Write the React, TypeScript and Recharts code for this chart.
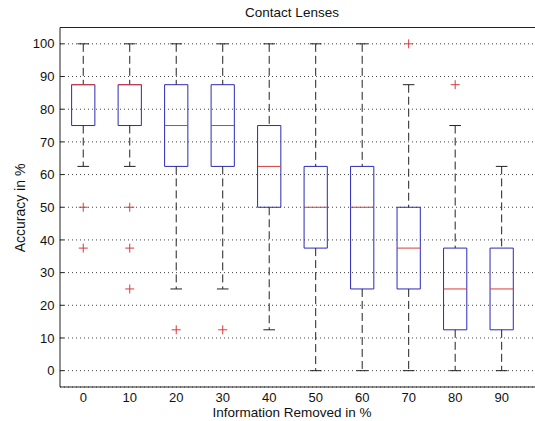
import React from 'react';
import {
  ComposedChart,
  XAxis,
  YAxis,
  CartesianGrid,
  ReferenceArea,
  ReferenceLine,
  Scatter,
} from 'recharts';

const categories = [0, 10, 20, 30, 40, 50, 60, 70, 80, 90];
const whiskerLow = [62.5, 62.5, 25, 25, 12.5, 0, 0, 0, 0, 0];
const q1 = [75, 75, 62.5, 62.5, 50, 37.5, 25, 25, 12.5, 12.5];
const medians = [87.5, 87.5, 75, 75, 62.5, 50, 50, 37.5, 25, 25];
const q3 = [87.5, 87.5, 87.5, 87.5, 75, 62.5, 62.5, 50, 37.5, 37.5];
const whiskerHigh = [100, 100, 100, 100, 100, 100, 100, 87.5, 75, 62.5];
const outlierX = [0, 0, 10, 10, 10, 20, 30, 70, 80];
const outlierY = [50, 37.5, 50, 37.5, 25, 12.5, 12.5, 100, 87.5];
const yTicks = [0, 10, 20, 30, 40, 50, 60, 70, 80, 90, 100];

const title = 'Contact Lenses';
const xLabel = 'Information Removed in %';
const yLabel = 'Accuracy in %';

const BOX_HALF = 2.5;
const CAP_HALF = 1.25;
const BLUE = '#2a2ab8';
const RED = '#d83a3a';
const WHISKER = '#222222';
const FONT = '"Liberation Sans", Arial, Helvetica, sans-serif';

const outliers = outlierX.map((x, i) => ({ x, y: outlierY[i] }));

const Plus = (props: any) => {
  const { cx, cy } = props;
  if (cx == null || cy == null) return <g />;
  return (
    <g stroke={RED} strokeWidth={1}>
      <line x1={cx - 4.5} x2={cx + 4.5} y1={cy} y2={cy} />
      <line x1={cx} x2={cx} y1={cy - 4.5} y2={cy + 4.5} />
    </g>
  );
};

export default function App() {
  return (
    <div
      style={{
        position: 'fixed',
        left: 0,
        top: 0,
        width: 535,
        height: 421,
        overflow: 'hidden',
        background: '#fff',
        fontFamily: FONT,
      }}
    >
      <div
        style={{
          position: 'absolute',
          left: 192,
          width: 200,
          top: 5,
          textAlign: 'center',
          fontSize: 13.5,
          lineHeight: '15px',
          color: '#111',
        }}
      >
        {title}
      </div>
      <div
        style={{
          position: 'absolute',
          left: 142,
          width: 300,
          top: 406,
          textAlign: 'center',
          fontSize: 13.5,
          lineHeight: '13px',
          color: '#111',
        }}
      >
        {xLabel}
      </div>
      <div
        style={{
          position: 'absolute',
          left: 20,
          top: 207.5,
          transform: 'translate(-50%, -50%) rotate(-90deg)',
          whiteSpace: 'nowrap',
          fontSize: 14,
          lineHeight: '15px',
          color: '#111',
        }}
      >
        {yLabel}
      </div>
      <div style={{ position: 'absolute', left: 0, top: 0 }}>
        <ComposedChart
          width={560}
          height={421}
          margin={{ top: 27.5, right: 23, left: 0, bottom: 0 }}
        >
          <CartesianGrid
            vertical={false}
            stroke="#444"
            strokeDasharray="1 3"
          />
          <XAxis
            type="number"
            dataKey="x"
            domain={[-5, 97.6]}
            ticks={categories}
            allowDataOverflow
            height={34}
            tickLine={false}
            tickSize={0}
            tickMargin={6}
            axisLine={{ stroke: '#222' }}
            tick={{ fill: '#111', fontSize: 13, fontFamily: FONT }}
          />
          <XAxis
            xAxisId="top"
            orientation="top"
            type="number"
            domain={[-5, 97.6]}
            allowDataOverflow
            height={0}
            tick={false}
            tickLine={false}
            axisLine={{ stroke: '#222' }}
          />
          <YAxis
            type="number"
            dataKey="y"
            domain={[-5, 105]}
            ticks={yTicks}
            allowDataOverflow
            width={60}
            tickSize={-4}
            tickMargin={9.5}
            tickLine={{ stroke: '#222' }}
            axisLine={{ stroke: '#222' }}
            tick={{ fill: '#111', fontSize: 13, fontFamily: FONT }}
          />
          <YAxis
            yAxisId="right"
            orientation="right"
            type="number"
            domain={[-5, 105]}
            ticks={yTicks}
            allowDataOverflow
            width={0}
            tickSize={-4}
            tickLine={{ stroke: '#222' }}
            axisLine={{ stroke: '#222' }}
            tick={() => <g />}
          />
          <ReferenceLine y={105} stroke="#222" ifOverflow="visible" />
          {categories.map((c, i) => (
            <ReferenceArea
              key={`box-${c}`}
              x1={c - BOX_HALF}
              x2={c + BOX_HALF}
              y1={q1[i]}
              y2={q3[i]}
              fill="none"
              fillOpacity={0}
              stroke={BLUE}
              strokeWidth={1}
              ifOverflow="visible"
            />
          ))}
          {categories.map((c, i) => (
            <ReferenceLine
              key={`wu-${c}`}
              segment={[
                { x: c, y: whiskerHigh[i] },
                { x: c, y: q3[i] },
              ]}
              stroke={WHISKER}
              strokeDasharray="8 4"
              ifOverflow="visible"
            />
          ))}
          {categories.map((c, i) => (
            <ReferenceLine
              key={`wl-${c}`}
              segment={[
                { x: c, y: q1[i] },
                { x: c, y: whiskerLow[i] },
              ]}
              stroke={WHISKER}
              strokeDasharray="8 4"
              ifOverflow="visible"
            />
          ))}
          {categories.map((c, i) => (
            <ReferenceLine
              key={`cu-${c}`}
              segment={[
                { x: c - CAP_HALF, y: whiskerHigh[i] },
                { x: c + CAP_HALF, y: whiskerHigh[i] },
              ]}
              stroke={WHISKER}
              ifOverflow="visible"
            />
          ))}
          {categories.map((c, i) => (
            <ReferenceLine
              key={`cl-${c}`}
              segment={[
                { x: c - CAP_HALF, y: whiskerLow[i] },
                { x: c + CAP_HALF, y: whiskerLow[i] },
              ]}
              stroke={WHISKER}
              ifOverflow="visible"
            />
          ))}
          {categories.map((c, i) => (
            <ReferenceLine
              key={`med-${c}`}
              segment={[
                { x: c - BOX_HALF, y: medians[i] },
                { x: c + BOX_HALF, y: medians[i] },
              ]}
              stroke={RED}
              strokeWidth={1}
              ifOverflow="visible"
            />
          ))}
          <Scatter
            data={outliers}
            dataKey="y"
            shape={Plus}
            isAnimationActive={false}
          />
        </ComposedChart>
      </div>
    </div>
  );
}
